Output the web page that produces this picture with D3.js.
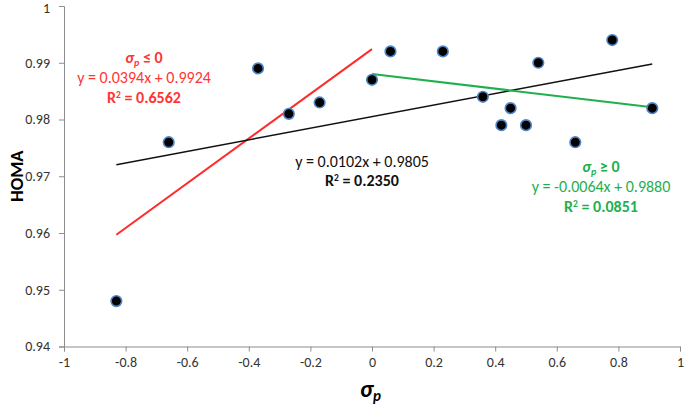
<!DOCTYPE html>
<html>
<head>
<meta charset="utf-8">
<script src="https://cdn.jsdelivr.net/npm/d3@7"></script>
<style>
  body { margin: 0; background: #fff; }
  svg { display: block; font-family: Calibri, Carlito, "Open Sans", sans-serif; }
</style>
</head>
<body>
<svg id="chart" width="685" height="407"></svg>
<script>
// sigma_p values and HOMA values
const sigmaP = [-0.83, -0.66, -0.37, -0.27, -0.17, 0.0, 0.06, 0.23, 0.36, 0.42, 0.45, 0.50, 0.54, 0.66, 0.78, 0.91];
const homa   = [0.948, 0.976, 0.989, 0.981, 0.983, 0.987, 0.992, 0.992, 0.984, 0.979, 0.982, 0.979, 0.990, 0.976, 0.994, 0.982];

const xTicks = [-1, -0.8, -0.6, -0.4, -0.2, 0, 0.2, 0.4, 0.6, 0.8, 1];
const xTickLabels = ["-1", "-0.8", "-0.6", "-0.4", "-0.2", "0", "0.2", "0.4", "0.6", "0.8", "1"];
const yTicks = [0.94, 0.95, 0.96, 0.97, 0.98, 0.99, 1];
const yTickLabels = ["0.94", "0.95", "0.96", "0.97", "0.98", "0.99", "1"];

// trendlines: slope, intercept, x start, x end
const fitNames = ["neg", "all", "pos"];
const fitSlope = [0.0394, 0.0102, -0.0064];
const fitIntercept = [0.9924, 0.9805, 0.9880];
const fitFrom = [-0.83, -0.83, 0];
const fitTo = [0, 0.91, 0.91];
const fitColor = ["#ff2a2a", "#111111", "#1fb04e"];

const labelNeg = ["≤ 0", "y = 0.0394x + 0.9924", "0.6562"];
const labelAll = ["y = 0.0102x + 0.9805", "0.2350"];
const labelPos = ["≥ 0", "y = -0.0064x + 0.9880", "0.0851"];

const W = 685, H = 407;
const margin = { top: 6, right: 5, bottom: 60.5, left: 64 };

const svg = d3.select("#chart");

const x = d3.scaleLinear().domain([-1, 1]).range([margin.left, W - margin.right]);
const y = d3.scaleLinear().domain([0.94, 1]).range([H - margin.bottom, margin.top]);

const axisColor = "#8c8c8c";
const tickFont = "Calibri, Carlito, 'Open Sans', sans-serif";

// x axis
const gx = svg.append("g")
  .attr("transform", `translate(0,${H - margin.bottom})`)
  .call(d3.axisBottom(x).tickValues(xTicks).tickFormat((d, i) => xTickLabels[i]).tickSizeOuter(0).tickSize(5).tickPadding(6));
gx.select(".domain").attr("stroke", axisColor);
gx.selectAll(".tick line").attr("stroke", axisColor);
gx.selectAll(".tick text").attr("font-size", 14).attr("fill", "#333").attr("font-family", tickFont);

// y axis
const gy = svg.append("g")
  .attr("transform", `translate(${margin.left},0)`)
  .call(d3.axisLeft(y).tickValues(yTicks).tickFormat((d, i) => yTickLabels[i]).tickSizeOuter(0).tickSize(5).tickPadding(9));
gy.select(".domain").attr("stroke", axisColor);
gy.selectAll(".tick line").attr("stroke", axisColor);
gy.selectAll(".tick text").attr("font-size", 14).attr("fill", "#333").attr("font-family", tickFont)
  .attr("dy", (d) => d === 1 ? "0.45em" : "0.32em");

// axis titles
svg.append("text")
  .attr("transform", `translate(23,${(margin.top + H - margin.bottom) / 2}) rotate(-90)`)
  .attr("text-anchor", "middle")
  .attr("font-weight", "bold")
  .attr("font-size", 18.5)
  .attr("fill", "#000")
  .text("HOMA");

const xt = svg.append("text")
  .attr("x", x(0) - 12)
  .attr("y", 397)
  .attr("font-weight", "bold")
  .attr("font-style", "italic")
  .attr("fill", "#000");
xt.append("tspan").attr("font-size", 24).text("σ");
xt.append("tspan").attr("font-size", 15).attr("dy", 4).text("p");

// trendlines
svg.append("g")
  .selectAll("line")
  .data(fitNames)
  .join("line")
  .attr("x1", (d, i) => x(fitFrom[i]))
  .attr("y1", (d, i) => y(fitSlope[i] * fitFrom[i] + fitIntercept[i]))
  .attr("x2", (d, i) => x(fitTo[i]))
  .attr("y2", (d, i) => y(fitSlope[i] * fitTo[i] + fitIntercept[i]))
  .attr("stroke", (d, i) => fitColor[i])
  .attr("stroke-width", (d, i) => i === 1 ? 1.5 : 2);

// points
svg.append("g")
  .selectAll("circle")
  .data(sigmaP)
  .join("circle")
  .attr("cx", (d) => x(d))
  .attr("cy", (d, i) => y(homa[i]))
  .attr("r", 5.3)
  .attr("fill", "#000")
  .attr("stroke", "#4f86c6")
  .attr("stroke-width", 1.6);

// equation labels
function eqLabel(cx, top, color, lines, sigmaLine) {
  const g = svg.append("g").attr("fill", color).attr("text-anchor", "middle").attr("font-size", 16);
  let yy = top;
  if (sigmaLine) {
    const t = g.append("text").attr("x", cx).attr("y", yy).attr("font-weight", "bold");
    t.append("tspan").attr("font-style", "italic").text("σ");
    t.append("tspan").attr("font-style", "italic").attr("font-size", 10).attr("dy", 3).text("p");
    t.append("tspan").attr("dy", -3).text(" " + lines[0]);
    yy += 20.5;
  }
  const off = sigmaLine ? 1 : 0;
  g.append("text").attr("x", cx).attr("y", yy).text(lines[off]);
  yy += 19.5;
  const r = g.append("text").attr("x", cx).attr("y", yy).attr("font-weight", "bold");
  r.append("tspan").text("R");
  r.append("tspan").attr("font-size", 9.5).attr("dy", -5).text("2");
  r.append("tspan").attr("dy", 5).text(" = " + lines[off + 1]);
}

eqLabel(144, 62.5, "#ff3535", labelNeg, true);
eqLabel(362, 166.5, "#111", labelAll, false);
eqLabel(601, 171.5, "#1fb04e", labelPos, true);
</script>
</body>
</html>
